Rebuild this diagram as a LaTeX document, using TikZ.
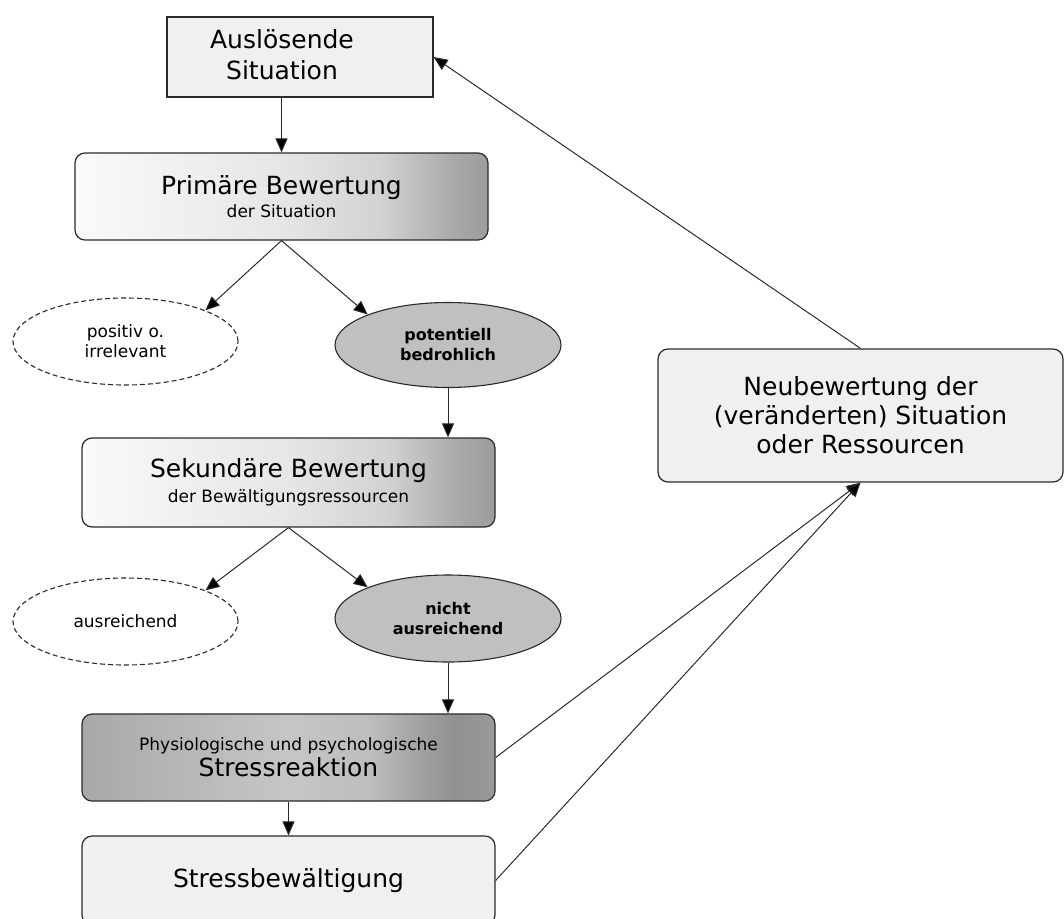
\documentclass[tikz,border=0pt]{standalone}
\usepackage{fontspec}
\setmainfont{DejaVu Sans}
\usetikzlibrary{arrows.meta,shapes.geometric}
\definecolor{boxfill}{HTML}{F0F0F0}
\definecolor{edge}{HTML}{2A2A2A}
\definecolor{ellfill}{HTML}{C0C0C0}
\definecolor{pA}{HTML}{FAFAFA}
\definecolor{pB}{HTML}{E6E6E6}
\definecolor{pC}{HTML}{D2D2D2}
\definecolor{pD}{HTML}{A8A8A8}
\definecolor{pE}{HTML}{9C9C9C}
\definecolor{sA}{HTML}{A8A8A8}
\definecolor{sB}{HTML}{C6C6C6}
\definecolor{sC}{HTML}{BDBDBD}
\definecolor{sD}{HTML}{909090}
\definecolor{sE}{HTML}{9A9A9A}
\pgfdeclarehorizontalshading{primshade}{100bp}{color(0bp)=(pA); color(25bp)=(pA); color(50bp)=(pB); color(62bp)=(pC); color(71bp)=(pD); color(75bp)=(pE); color(100bp)=(pE)}
\pgfdeclarehorizontalshading{stressshade}{100bp}{color(0bp)=(sA); color(25bp)=(sA); color(50bp)=(sB); color(60bp)=(sC); color(70bp)=(sD); color(75bp)=(sE); color(100bp)=(sE)}
\begin{document}
\begin{tikzpicture}[x=1pt,y=-1pt,
  big/.style={font=\fontsize{25}{29}\selectfont},
  rbox/.style={draw=edge, line width=1.2pt, rounded corners=10pt, minimum width=413pt, minimum height=87pt, inner sep=0pt, align=center, text=black},
  flatbox/.style={rbox, fill=boxfill},
  primbox/.style={rbox, shade, shading=primshade},
  stressbox/.style={rbox, shade, shading=stressshade},
  ell/.style={ellipse, draw=edge, line width=1.1pt, minimum width=225pt, minimum height=87pt, inner sep=0pt, align=center, font=\fontsize{17}{20}\selectfont},
  dashell/.style={ell, dash pattern=on 5pt off 3pt, fill=white},
  grayell/.style={ell, fill=ellfill, font=\bfseries\fontsize{16}{20}\selectfont},
  arr/.style={draw=edge, line width=1pt, -{Triangle[length=14pt,width=12pt,fill=black]}}
]
\useasboundingbox (0,0) rectangle (1064,918);
\clip (0,0) rectangle (1064,918);

% nodes
\node[draw=edge, line width=1.2pt, fill=boxfill, minimum width=266pt, minimum height=80pt, inner sep=0pt] (ausl) at (300,57) {};
\node[font=\fontsize{25}{31}\selectfont, align=center, inner sep=0pt] (auslt) at (282,55) {Auslösende\\Situation};

\node[primbox, font=\fontsize{17}{23}\selectfont] (prim) at (281.5,196.5) {{\fontsize{25}{23}\selectfont Primäre Bewertung}\\der Situation};

\node[dashell] (posit) at (125.5,341.5) {positiv o.\\irrelevant};
\node[grayell, minimum width=226pt, minimum height=85pt] (pot) at (448,345) {potentiell\\bedrohlich};

\node[primbox, minimum height=89pt, font=\fontsize{17}{25}\selectfont] (sek) at (288.5,482.5) {{\fontsize{25}{25}\selectfont Sekundäre Bewertung}\\der Bewältigungsressourcen};

\node[dashell] (ausr) at (125.5,621.5) {ausreichend};
\node[grayell, minimum width=226pt] (nicht) at (448,618.5) {nicht\\ausreichend};

\node[stressbox, font=\fontsize{17}{26}\selectfont] (stress) at (288.5,757.5) {Physiologische und psychologische\\{\fontsize{25}{26}\selectfont Stressreaktion}};

\node[flatbox, minimum height=89pt, big] (bew) at (288.5,880.5) {\raisebox{4pt}{Stressbewältigung}};

\node[flatbox, minimum width=405pt, minimum height=133pt, big] (neu) at (860.5,415.5) {Neubewertung der\\(veränderten) Situation\\oder Ressourcen};

% connectors
\draw[arr] (ausl.south -| prim.north) -- (prim.north);
\draw[arr] (prim.south) -- (posit.north east);
\draw[arr] (prim.south) -- (pot.north west);
\draw[arr] (pot.south) -- (pot.south |- sek.north);
\draw[arr] (sek.south) -- (ausr.north east);
\draw[arr] (sek.south) -- (nicht.north west);
\draw[arr] (nicht.south) -- (nicht.south |- stress.north);
\draw[arr] (stress.south) -- (bew.north);
\draw[arr] (neu.north) -- (ausl.east);
\draw[arr] (stress.east) -- (neu.south);
\draw[arr] (bew.east) -- (neu.south);
\end{tikzpicture}
\end{document}
